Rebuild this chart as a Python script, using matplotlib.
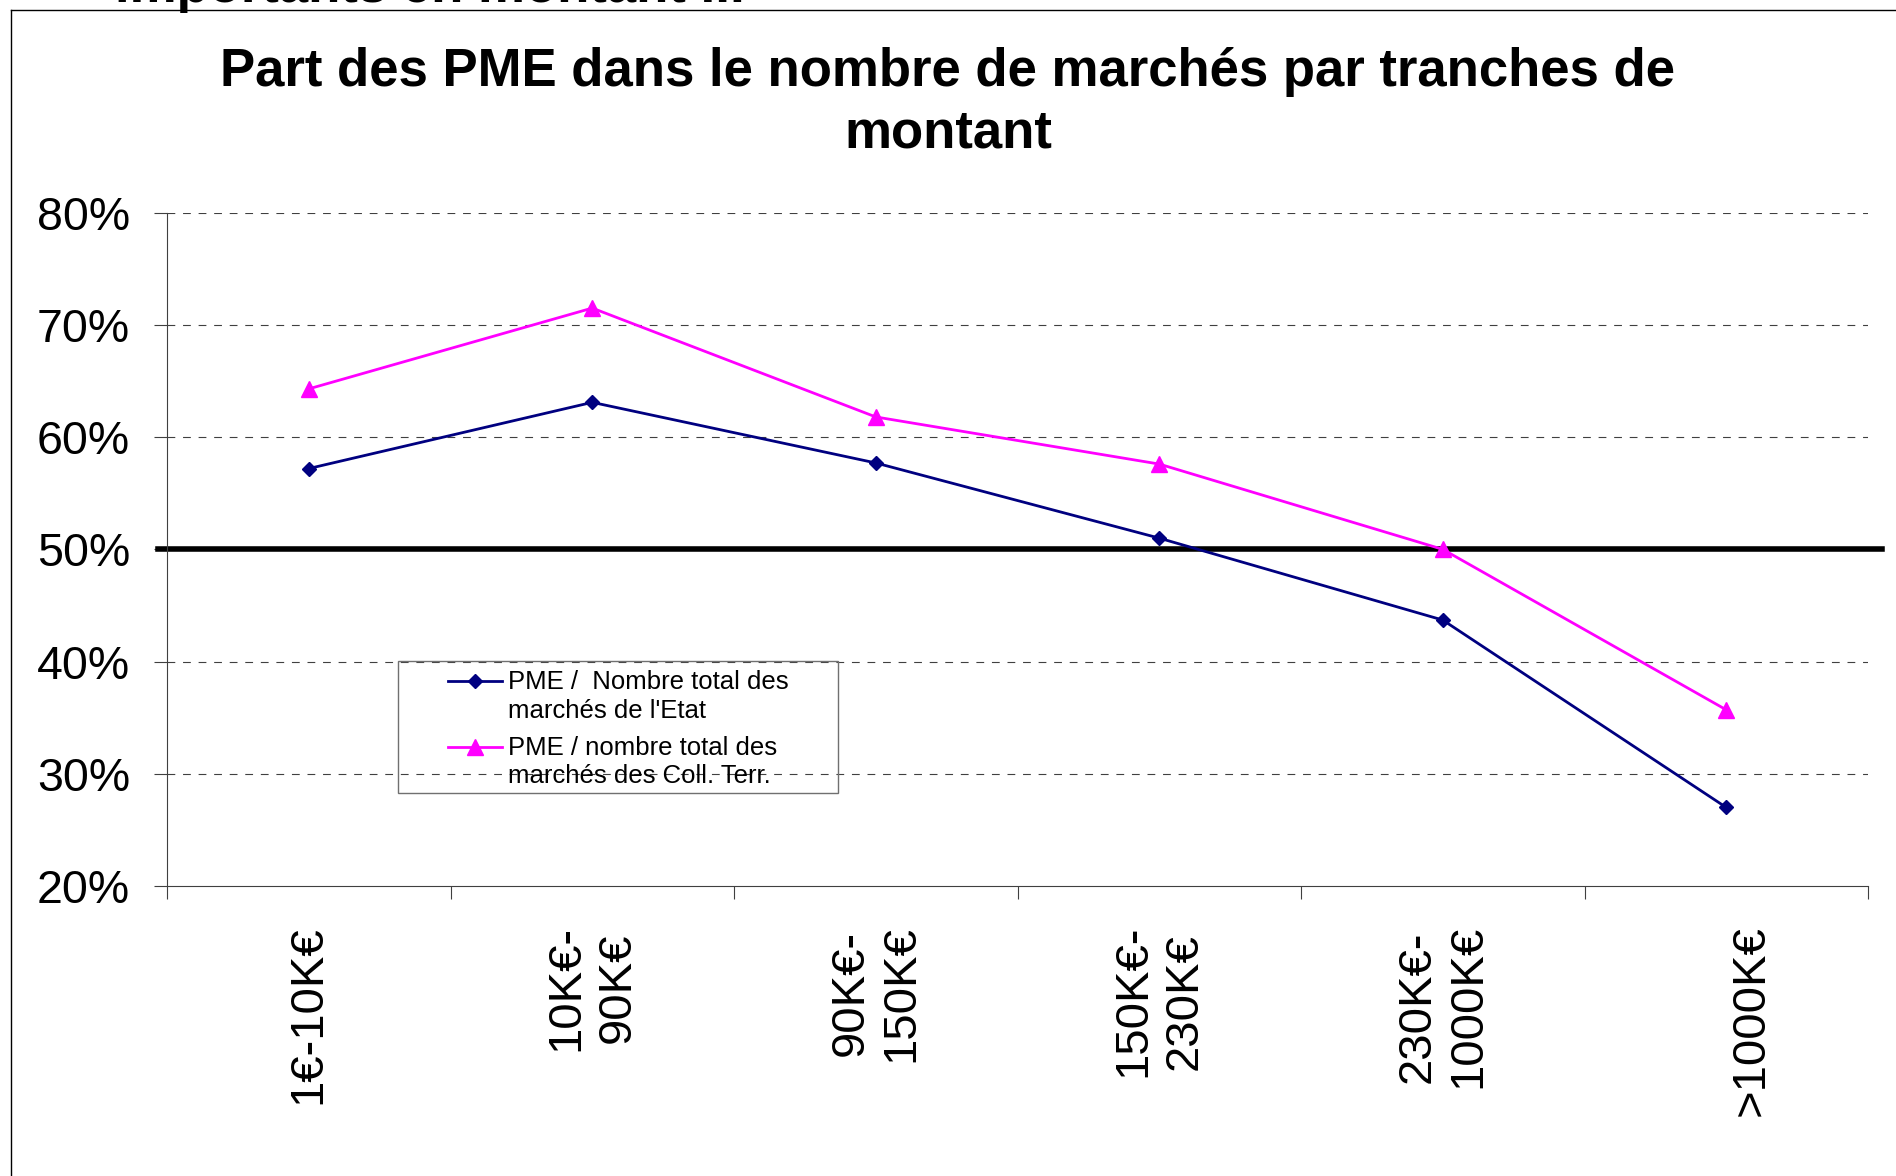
import matplotlib.pyplot as plt
from matplotlib.lines import Line2D
from matplotlib.patches import Rectangle
from matplotlib.legend_handler import HandlerLine2D

plt.rcParams['font.family'] = ['Liberation Sans', 'DejaVu Sans']

# --- DONNEES ---
tranches = ["1€-10K€", "10K€-\n90K€", "90K€-\n150K€", "150K€-\n230K€",
            "230K€-\n1000K€", "\n>1000K€"]
part_etat = [57.2, 63.1, 57.7, 51.0, 43.7, 27.0]
part_coll = [64.3, 71.5, 61.8, 57.6, 50.0, 35.7]
seuil = 50
y_ticks = [20, 30, 40, 50, 60, 70, 80]
label_etat = "PME /  Nombre total des\nmarchés de l'Etat"
label_coll = "PME / nombre total des\nmarchés des Coll. Terr."
titre_l1 = "Part des PME dans le nombre de marchés par tranches de"
titre_l2 = "montant"
titre_haut = "importants en montant ..."

W, H = 1896, 1176


class HandleHaut(HandlerLine2D):
    # la marque de legende est alignee sur la premiere ligne du texte
    def create_artists(self, legend, orig_handle, xdescent, ydescent, width, height,
                       fontsize, trans):
        arts = super().create_artists(legend, orig_handle, xdescent, ydescent, width,
                                      height, fontsize, trans)
        for a in arts:
            a.set_ydata([y + 0.62 * fontsize for y in a.get_ydata()])
        return arts


fig = plt.figure(figsize=(W / 100, H / 100), dpi=100)
ax = fig.add_axes([167 / W, 1 - 886 / H, (1868 - 167) / W, (886 - 212.7) / H])

x = list(range(len(tranches)))

# grille + seuil 50%
for v in y_ticks[1:]:
    ax.axhline(v, color='#404040', lw=0.8, linestyle=(0, (7, 7)), zorder=1)
ax.plot([-0.53, 5.55], [seuil, seuil], color='black', lw=4, clip_on=False, zorder=2)

l_etat, = ax.plot(x, part_etat, color='#000080', lw=2, marker='D', markersize=7.5,
                  label=label_etat, zorder=3)
l_coll, = ax.plot(x, part_coll, color='#FF00FF', lw=2, marker='^', markersize=11,
                  label=label_coll, zorder=3)

ax.set_xlim(-0.5, len(tranches) - 0.5)
ax.set_ylim(20, 80)
ax.set_yticks(y_ticks)
ax.set_yticklabels([f"{v}%" for v in y_ticks])
ax.tick_params(axis='y', direction='out', length=9.5, width=0.8, color='#404040',
               pad=17, labelsize=33.5)

ax.set_xticks([i - 0.5 for i in range(len(tranches) + 1)])
ax.set_xticklabels([])
ax.set_xticks(x, minor=True)
ax.set_xticklabels(tranches, minor=True, rotation=90, ha='center', va='top',
                   multialignment='center', fontsize=34)
ax.tick_params(axis='x', which='major', direction='out', length=9, width=0.8, color='#404040')
ax.tick_params(axis='x', which='minor', length=0, pad=28)

for s in ['top', 'right']:
    ax.spines[s].set_visible(False)
for s in ['left', 'bottom']:
    ax.spines[s].set_color('#404040')
    ax.spines[s].set_linewidth(0.8)

# legende
leg = ax.legend(handles=[l_etat, l_coll], loc='upper left',
                bbox_to_anchor=(448 / W, 1 - 670 / H), bbox_transform=fig.transFigure,
                frameon=False, fontsize=18.5, handlelength=2.1, handletextpad=0.25,
                borderpad=0, borderaxespad=0, labelspacing=0.5,
                handler_map={Line2D: HandleHaut()})
for t in leg.get_texts():
    t.set_linespacing(1.25)
fig.add_artist(Rectangle((398 / W, 1 - 793 / H), 440 / W, 132 / H,
                         transform=fig.transFigure, fill=False,
                         edgecolor='#707070', lw=1))

# titres
fig.text(0.5, 1 - 86 / H, titre_l1, ha='center', va='baseline', fontsize=38,
         fontweight='bold')
fig.text(0.5, 1 - 147 / H, titre_l2, ha='center', va='baseline', fontsize=38,
         fontweight='bold')
fig.text(115 / W, 1 - 2 / H, titre_haut, ha='left', va='baseline', fontsize=38,
         fontweight='bold')

# cadre
fig.add_artist(Line2D([11 / W, 11 / W], [0, 1 - 10 / H], transform=fig.transFigure,
                      color='black', lw=1))
fig.add_artist(Line2D([11 / W, 1], [1 - 10 / H, 1 - 10 / H], transform=fig.transFigure,
                      color='black', lw=1))

fig.savefig('out.png', dpi=100)
